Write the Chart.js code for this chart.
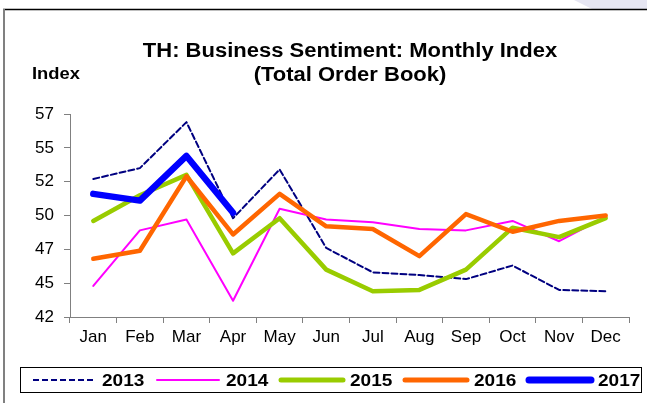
<!DOCTYPE html>
<html>
<head>
<meta charset="utf-8">
<script src="https://cdn.jsdelivr.net/npm/chart.js@4"></script>
<style>
  html, body { margin: 0; padding: 0; background: #fff; }
  #wrap { width: 647px; height: 403px; position: relative; }
</style>
</head>
<body>
<div id="wrap"><canvas id="chart" width="647" height="403"></canvas></div>
<script>
let months = ['Jan', 'Feb', 'Mar', 'Apr', 'May', 'Jun', 'Jul', 'Aug', 'Sep', 'Oct', 'Nov', 'Dec'];

let y2013 = [52.2, 53.0, 56.4, 49.3, 52.9, 47.1, 45.3, 45.1, 44.8, 45.8, 44.0, 43.9];
let y2014 = [44.3, 48.4, 49.2, 43.2, 50.0, 49.2, 49.0, 48.5, 48.4, 49.1, 47.6, 49.4];
let y2015 = [49.1, 51.0, 52.5, 46.7, 49.3, 45.5, 43.9, 44.0, 45.5, 48.6, 47.9, 49.3];
let y2016 = [46.3, 46.9, 52.4, 48.1, 51.1, 48.7, 48.5, 46.5, 49.6, 48.3, 49.1, 49.5];
let y2017 = [51.1, 50.6, 53.9, 49.7];

let yMin = 42, yMax = 57, yStep = 2.5;
let font = "'Liberation Sans', Arial, sans-serif";

// the source picture is a bit wider than tall, so stretch the drawn text
function wideText(c, text, x, y, sx) {
    c.save();
    c.translate(x, y);
    c.scale(sx, 1);
    c.fillText(text, 0, 0);
    c.restore();
}

// title, axis caption, frame and the boxed legend
let decor = {
    id: 'decor',
    beforeDraw(chart) {
        let c = chart.ctx;
        c.save();
        c.fillStyle = '#e6e6f2';
        c.beginPath();
        c.moveTo(574, 0); c.lineTo(647, 0); c.lineTo(647, 9); c.lineTo(592, 9);
        c.closePath();
        c.fill();
        c.strokeStyle = '#000';
        c.lineWidth = 1.5;
        c.beginPath(); c.moveTo(3, 9.5); c.lineTo(647, 9.5); c.stroke();
        c.strokeStyle = '#808080';
        c.lineWidth = 2;
        c.beginPath(); c.moveTo(4, 9); c.lineTo(4, 403); c.stroke();
        c.restore();
    },
    afterDraw(chart) {
        let c = chart.ctx;
        c.save();
        c.fillStyle = '#000';
        c.font = 'bold 20px ' + font;
        c.textAlign = 'center';
        c.textBaseline = 'alphabetic';
        wideText(c, 'TH: Business Sentiment: Monthly Index', 350, 57, 1.1);
        wideText(c, '(Total Order Book)', 350, 81, 1.1);
        c.font = 'bold 17px ' + font;
        c.textAlign = 'left';
        wideText(c, 'Index', 32, 79, 1.08);

        // legend box
        c.strokeStyle = '#000';
        c.lineWidth = 1;
        c.strokeRect(20.5, 367.5, 621, 25);
        c.font = 'bold 17px ' + font;
        c.textBaseline = 'middle';
        chart.data.datasets.forEach((ds, i) => {
            let x0 = 33 + i * 124;
            c.strokeStyle = ds.borderColor;
            c.lineWidth = ds.legendWidth;
            c.lineCap = ds.borderDash ? 'butt' : 'round';
            c.setLineDash(ds.borderDash || []);
            c.beginPath();
            c.moveTo(x0, 380); c.lineTo(x0 + 62, 380);
            c.stroke();
            c.setLineDash([]);
            wideText(c, ds.label, x0 + 69, 381, 1.12);
        });
        c.restore();
    }
};

new Chart(document.getElementById('chart'), {
    type: 'line',
    data: {
        labels: months,
        datasets: [
            { label: '2013', data: y2013, borderColor: '#000080', borderWidth: 2, borderDash: [6, 3], legendWidth: 2, order: 4 },
            { label: '2014', data: y2014, borderColor: '#ff00ff', borderWidth: 2, legendWidth: 2, order: 3 },
            { label: '2015', data: y2015, borderColor: '#99cc00', borderWidth: 4.5, legendWidth: 5, order: 2 },
            { label: '2016', data: y2016, borderColor: '#ff6600', borderWidth: 4.5, legendWidth: 5, order: 1 },
            { label: '2017', data: y2017, borderColor: '#0000ff', borderWidth: 6.5, legendWidth: 7, order: 0 }
        ]
    },
    options: {
        responsive: false,
        animation: false,
        layout: { padding: { left: 0, top: 114, right: 18, bottom: 0 } },
        elements: {
            point: { radius: 0 },
            line: { tension: 0, fill: false, borderJoinStyle: 'round', borderCapStyle: 'round' }
        },
        plugins: {
            legend: { display: false },
            title: { display: false },
            tooltip: { enabled: false }
        },
        scales: {
            x: {
                offset: true,
                grid: { display: true, drawOnChartArea: false, offset: true, tickLength: 6, color: '#808080', lineWidth: 1 },
                border: { color: '#808080', width: 1 },
                ticks: { color: '#000', font: { family: font, size: 17 }, padding: 4, maxRotation: 0, autoSkip: false },
                afterFit(scale) { scale.height = 86; }
            },
            y: {
                min: yMin,
                max: yMax,
                grid: { display: true, drawOnChartArea: false, tickLength: 6, color: '#808080', lineWidth: 1 },
                border: { color: '#808080', width: 1 },
                ticks: {
                    stepSize: yStep,
                    color: '#000',
                    font: { family: font, size: 17 },
                    padding: 10,
                    callback: v => Math.round(v)
                },
                afterFit(scale) { scale.width = 70; }
            }
        }
    },
    plugins: [decor]
});
</script>
</body>
</html>
